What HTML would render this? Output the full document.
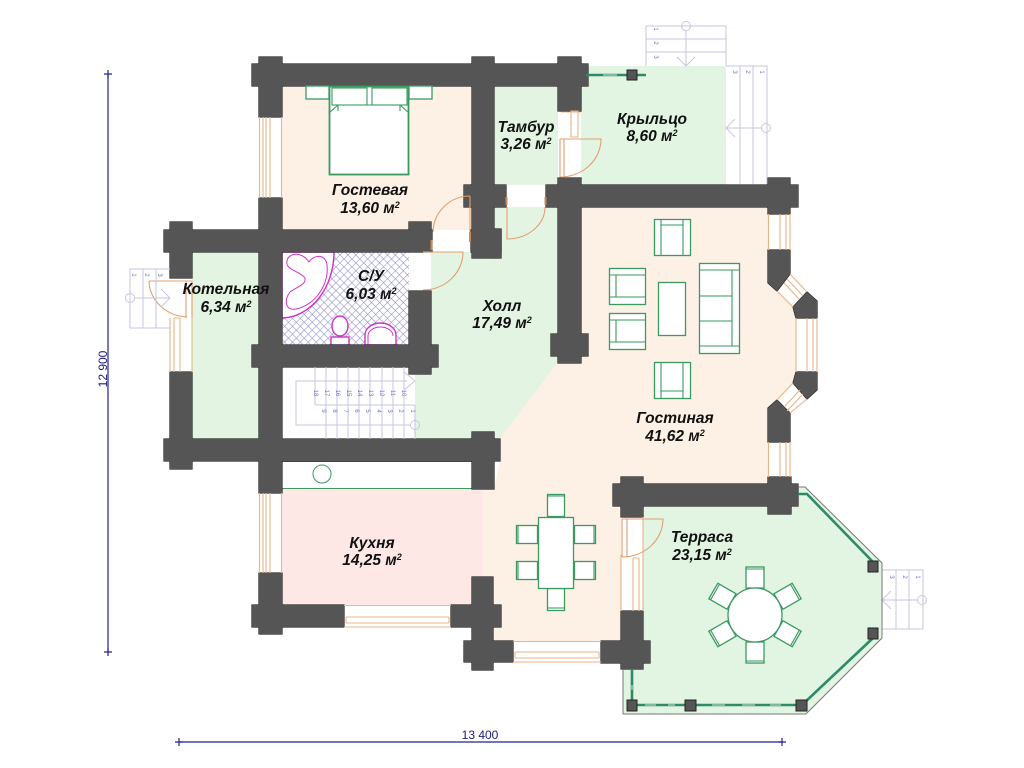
<!DOCTYPE html>
<html><head><meta charset="utf-8"><style>
html,body{margin:0;padding:0;background:#fff;width:1024px;height:768px;overflow:hidden}
svg{display:block}
text{font-family:"Liberation Sans",sans-serif}
.l{font-size:15.5px;font-weight:bold;font-style:italic;fill:#111;text-anchor:middle}
.s{font-size:9px}
.d{font-size:12px;fill:#1a1a80;text-anchor:middle}
.n{font-size:6px;fill:#7070c8;text-anchor:middle}
.f{fill:#fff;stroke:#3a9a60;stroke-width:1.3}
.t{fill:none;stroke:#3a9a60;stroke-width:1.1}
.o{fill:none;stroke:#e8b488;stroke-width:1.1}
.st{fill:none;stroke:#c6c6e2;stroke-width:1}
.m{fill:#fff;stroke:#d030c8;stroke-width:1.4}
</style></head><body>
<svg width="1024" height="768" viewBox="0 0 1024 768" xmlns="http://www.w3.org/2000/svg">
<defs>
<pattern id="h" width="5.6" height="5.6" patternUnits="userSpaceOnUse" patternTransform="rotate(45 282 252)">
<rect width="5.6" height="5.6" fill="#fff"/><path d="M0 0H5.6M0 0V5.6" stroke="#8f8fd2" stroke-width="1.1"/>
</pattern>
<g id="w">
<rect x="252" y="64" width="336" height="22"/>
<rect x="259" y="57" width="23" height="60"/>
<rect x="472" y="57" width="22" height="201"/>
<rect x="558" y="57" width="23" height="54"/>
<rect x="464" y="185" width="42" height="22"/>
<rect x="471" y="230" width="30" height="22"/>
<rect x="472" y="229" width="29" height="29" opacity="0"/>
<rect x="494" y="229" width="7" height="29"/>
<rect x="558" y="178" width="23" height="185"/>
<rect x="551" y="334" width="37" height="22"/>
<rect x="546" y="185" width="252" height="22"/>
<rect x="768" y="178" width="22" height="36"/>
<rect x="164" y="230" width="268" height="22"/>
<rect x="170" y="222" width="22" height="56"/>
<rect x="409" y="222" width="22" height="8"/>
<rect x="259" y="198" width="23" height="295"/>
<rect x="252" y="345" width="186" height="22"/>
<rect x="409" y="291" width="22" height="83"/>
<rect x="170" y="372" width="22" height="97"/>
<rect x="164" y="439" width="336" height="22"/>
<rect x="472" y="432" width="22" height="57"/>
<rect x="259" y="573" width="23" height="61"/>
<rect x="252" y="605" width="92" height="22"/>
<rect x="451" y="605" width="50" height="22"/>
<rect x="472" y="577" width="21" height="93"/>
<rect x="464" y="641" width="49" height="21"/>
<rect x="601" y="641" width="49" height="22"/>
<rect x="621" y="611" width="22" height="58"/>
<rect x="613" y="484" width="185" height="22"/>
<rect x="621" y="477" width="22" height="40"/>
<rect x="768" y="477" width="23" height="37"/>
<polygon points="768,250 790,250 790,274 777,291 768,283"/>
<polygon points="793,307 807,292 817,301 817,318 796,318"/>
<polygon points="796,372 817,372 817,390 807,399 793,383"/>
<polygon points="777,400 790,413 790,442 768,442 768,408"/>
</g>
<g id="ch"><rect class="f" x="-9" y="-10" width="18" height="21"/><path class="t" d="M-9 -8H9"/></g>
<g id="ac"><rect class="f" x="-18" y="-18" width="36" height="36"/></g>
</defs>
<rect width="1024" height="768" fill="#fff"/>

<!-- floors -->
<rect x="282" y="86" width="190" height="145" fill="#fdf0e4"/>
<rect x="192" y="252" width="67" height="187" fill="#e4f4e2"/>
<rect x="494" y="86" width="64" height="99" fill="#e4f4e2"/>
<rect x="581" y="66" width="145" height="119" fill="#e2f4e2"/>
<polygon points="506,207 558,207 558,362 500,439 415,439 415,367 431,367 431,252 472,252 472,258 494,258 494,207" fill="#e4f4e2"/>
<polygon points="581,207 768,207 768,283 793,307 796,318 796,372 793,383 768,408 768,484 613,484 613,506 621,506 621,641 513,641 493,641 493,605 483,605 483,489 494,489 500,461 500,439 558,362 588,355 581,355" fill="#fdf0e4"/>
<rect x="282" y="489" width="201" height="116" fill="#fde8e6"/>
<polygon points="643,506 798,506 798,487 805,487 882,563 882,638 806,714 623,714 623,669 643,669" fill="#e2f4e2"/>

<!-- white windows/openings -->
<rect x="282" y="367" width="133" height="72" fill="#fff"/>
<rect x="282" y="461" width="190" height="28" fill="#fff"/>
<path d="M282 488.5H483" stroke="#3a9a60" stroke-width="1"/>
<path d="M282 461.5H472" stroke="#3a9a60" stroke-width="1"/>
<circle cx="322" cy="474" r="9" fill="#fff" stroke="#3a9a60" stroke-width="1"/>
<rect x="259" y="117" width="23" height="81" fill="#fff"/>
<rect x="259" y="493" width="23" height="80" fill="#fff"/>
<rect x="344" y="605" width="107" height="22" fill="#fff"/>
<rect x="513" y="641" width="88" height="21" fill="#fff"/>
<rect x="558" y="111" width="23" height="67" fill="#fff"/>
<rect x="506" y="185" width="40" height="22" fill="#fff"/>
<rect x="432" y="230" width="40" height="22" fill="#fff"/>
<rect x="170" y="278" width="22" height="94" fill="#fff"/>
<rect x="621" y="517" width="22" height="94" fill="#fff"/>
<rect x="768" y="214" width="22" height="36" fill="#fff"/>
<rect x="768" y="442" width="22" height="35" fill="#fff"/>
<rect x="796" y="318" width="21" height="54" fill="#fff"/>
<polygon points="777,291 790,274 807,292 793,307" fill="#fff"/>
<polygon points="777,400 793,383 807,399 790,413" fill="#fff"/>

<!-- bathroom -->
<rect x="282" y="252" width="127" height="93" fill="url(#h)"/>
<rect x="409" y="252" width="22" height="39" fill="#fff"/>
<path d="M282 252H334A53 66 0 0 1 282 318Z" class="m"/>
<path d="M288 258C295 250 305 256 309 262C314 254 326 254 327 265C329 285 315 305 296 309C285 311 284 300 290 292C298 286 306 285 305 278C299 270 282 270 288 258Z" fill="#fff" stroke="#d030c8" stroke-width="1"/>
<rect class="m" x="331" y="337" width="18" height="8"/>
<ellipse class="m" cx="340" cy="326" rx="8" ry="10"/>
<path class="m" d="M365 345V335A15.500 12 0 0 1 396 335V345Z"/>
<path d="M368 345V336A12.500 9 0 0 1 393 336" fill="none" stroke="#d030c8" stroke-width="1"/>

<!-- walls -->
<use href="#w" fill="#222" stroke="#222" stroke-width="1.2"/>
<use href="#w" fill="#555"/>

<!-- windows -->
<g class="o">
<path d="M259.500 117V198M281.500 117V198M263 117V198M270 117V198M266 117V198"/>
<path d="M259.500 493V573M281.500 493V573M263 493V573M270 493V573M266 493V573"/>
<path d="M344 605.500H451M344 627H451M346 617H449M346 623H449M346 617V623M449 617V623"/>
<path d="M513 641.500H601M513 662H601M515 652H599M515 658H599M515 652V658M599 652V658"/>
<path d="M561 112H581M571 111H578V137H571Z"/>
<path d="M170 318V372M192 318V372M174 318V372M180 318V372M174 318H180"/>
<path d="M621 555V611M643 517V611M633 558V611M639 558V611M633 558H639"/>
<path d="M768.500 214V250M790 214V250M780 214V250M786 214V250"/>
<path d="M768.500 442V477M790 442V477M780 442V477M786 442V477"/>
<path d="M796 318V372M817 318V372M807 318V372M813 318V372"/>
<path d="M777 291L793 307M790 274L807 292M784 283L799 299M787 279L803 296"/>
<path d="M777 400L793 383M790 413L807 399M784 407L800 390M787 411L803 394"/>
</g>
<!-- doors -->
<g fill="none" stroke="#e0a070" stroke-width="1.100">
<path d="M470 196V232M470 196A37 37 0 0 0 433 232"/>
<path d="M423 252H463A40 38 0 0 1 423 290"/>
<path d="M560 139H601A41 38 0 0 1 560 177M560 139V177M564 139V177"/>
<path d="M507 207V239A38 32 0 0 0 545 207"/>
<path d="M149 281H192V318M186 281V318M149 281A40 37 0 0 0 187 317"/>
<path d="M622 519H663A41 38 0 0 1 622 557M622 519V557M627 519V557"/>
</g>
<g fill="#d08850"><rect x="505.500" y="197" width="2" height="8"/><rect x="544.500" y="197" width="2" height="8"/><rect x="430.500" y="240" width="2" height="10"/><rect x="469" y="232" width="2" height="10"/></g>

<!-- outer stairs -->
<g class="st">
<path d="M646 66V26H726V66M646 39H726M646 52H726"/><circle cx="686" cy="26" r="4.500"/><path d="M686 30V66M677 57L686 66L695 57"/>
<path d="M726 66H767V184M740 66V184M753 66V184"/><circle cx="766" cy="128" r="4.500"/><path d="M726 128H762M735 119L726 128L735 137"/>
<path d="M170 269H130V328H170M143 269V328M156 269V328"/><circle cx="130" cy="298" r="4.500"/><path d="M134 298H170M161 289L170 298L161 307"/>
<path d="M882 570H923V629H882M896 570V629M909 570V629"/><circle cx="922" cy="600" r="4.500"/><path d="M882 600H918M891 591L882 600L891 609"/>
<path d="M315 367V405M326 367V405M337 367V405M348 367V405M359 367V405M370 367V405M382 367V405M393 367V405M404 367V405M315 405H415M326 405V439M337 405V439M348 405V439M359 405V439M370 405V439M382 405V439M393 405V439M404 405V439M415 405V439"/>
<path d="M407 381H296V425H411M404 372L415 381L404 390"/><circle cx="415" cy="425" r="4.500"/>
</g>
<g class="n">
<text transform="translate(654,29) rotate(90)">1</text><text transform="translate(654,43) rotate(90)">2</text><text transform="translate(654,57) rotate(90)">3</text>
<text transform="translate(733,72) rotate(90)">3</text><text transform="translate(746,72) rotate(90)">2</text><text transform="translate(760,72) rotate(90)">1</text>
<text transform="translate(132,275) rotate(90)">1</text><text transform="translate(145,275) rotate(90)">2</text><text transform="translate(158,275) rotate(90)">3</text>
<text transform="translate(890,577) rotate(90)">3</text><text transform="translate(903,577) rotate(90)">2</text><text transform="translate(916,577) rotate(90)">1</text>
<text transform="translate(314,393) rotate(90)">18</text><text transform="translate(325,393) rotate(90)">17</text><text transform="translate(336,393) rotate(90)">16</text><text transform="translate(347,393) rotate(90)">15</text><text transform="translate(358,393) rotate(90)">14</text><text transform="translate(369,393) rotate(90)">13</text><text transform="translate(380,393) rotate(90)">12</text><text transform="translate(391,393) rotate(90)">11</text><text transform="translate(402,393) rotate(90)">10</text>
<text transform="translate(322,411) rotate(90)">9</text><text transform="translate(333,411) rotate(90)">8</text><text transform="translate(344,411) rotate(90)">7</text><text transform="translate(355,411) rotate(90)">6</text><text transform="translate(366,411) rotate(90)">5</text><text transform="translate(377,411) rotate(90)">4</text><text transform="translate(388,411) rotate(90)">3</text><text transform="translate(399,411) rotate(90)">2</text><text transform="translate(411,411) rotate(90)">1</text>
</g>

<!-- bed -->
<rect class="f" x="306" y="86" width="23" height="13"/><rect class="f" x="409" y="86" width="23" height="13"/>
<rect x="329.500" y="86.500" width="79" height="88" fill="#fff" stroke="#3a9a60" stroke-width="1.800"/>
<rect class="t" x="332" y="88" width="35" height="17"/><rect class="t" x="372" y="88" width="35" height="17"/>
<path class="t" d="M329 113L338 105H400L409 113M338 105V111M400 105V111"/>

<!-- living -->
<rect class="f" x="654.500" y="219.500" width="36" height="36"/><path class="t" d="M661 219V255M683 219V255M661 225H683"/>
<rect class="f" x="609.500" y="268.500" width="36" height="36"/><path class="t" d="M609 275H645M609 297H645M616 275V297"/>
<rect class="f" x="609.500" y="313.500" width="36" height="36"/><path class="t" d="M609 320H645M609 342H645M616 320V342"/>
<rect class="f" x="658.500" y="282.500" width="27" height="53"/>
<rect class="f" x="699.500" y="263.500" width="40" height="90"/><path class="t" d="M699 270H739M699 346H739M732 270V346M699 296H732M699 321H732"/>
<rect class="f" x="654.500" y="362.500" width="36" height="36"/><path class="t" d="M661 362V398M683 362V398M661 391H683"/>

<!-- dining -->
<rect class="f" x="547.500" y="494.500" width="17" height="22"/><path class="t" d="M547 496H564"/>
<rect class="f" x="547.500" y="588.500" width="17" height="22"/><path class="t" d="M547 608H564"/>
<rect class="f" x="516.500" y="525.500" width="21" height="18"/><path class="t" d="M518 525V543"/>
<rect class="f" x="516.500" y="561.500" width="21" height="18"/><path class="t" d="M518 561V579"/>
<rect class="f" x="574.500" y="525.500" width="21" height="18"/><path class="t" d="M594 525V543"/>
<rect class="f" x="574.500" y="561.500" width="21" height="18"/><path class="t" d="M594 561V579"/>
<rect class="f" x="538.500" y="517.500" width="35" height="71"/>

<!-- terrace -->
<g fill="none">
<path d="M623 669V714H806L882 638V563L805 487H798" stroke="#777" stroke-width="1"/>
<path d="M798 494H807L873 562M873 638L802 705H632V669" stroke="#2e8b68" stroke-width="2.600"/>
<path d="M645 705H656M668 705H675M712 705H725M742 705H755M770 705H781M632 685V690" stroke="#cfe8d8" stroke-width="1"/>
</g>
<g fill="#555" stroke="#222" stroke-width="1">
<rect x="868" y="561" width="10" height="11"/><rect x="868" y="628" width="10" height="11"/>
<rect x="627" y="700" width="10" height="11"/><rect x="685" y="700" width="11" height="11"/><rect x="796" y="700" width="11" height="11"/>
</g>
<g>
<use href="#ch" transform="translate(755,577)"/>
<use href="#ch" transform="translate(755,653) rotate(180)"/>
<use href="#ch" transform="translate(722,596) rotate(-60)"/>
<use href="#ch" transform="translate(788,596) rotate(60)"/>
<use href="#ch" transform="translate(722,634) rotate(-120)"/>
<use href="#ch" transform="translate(788,634) rotate(120)"/>
</g>
<circle cx="755" cy="615" r="27" fill="#fff" stroke="#3a9a60" stroke-width="1.300"/>

<!-- porch rail -->
<path d="M586 75H646" stroke="#2e8b68" stroke-width="2.600"/><path d="M603 75H617" stroke="#cfe8d8" stroke-width="1"/>
<rect x="627" y="70" width="10" height="10" fill="#555" stroke="#222" stroke-width="1"/>

<!-- labels -->
<text class="l" x="370" y="195">Гостевая</text><text class="l" x="370" y="213">13,60 м<tspan class="s" dy="-5">2</tspan></text>
<text class="l" x="526" y="132">Тамбур</text><text class="l" x="526" y="149">3,26 м<tspan class="s" dy="-5">2</tspan></text>
<text class="l" x="652" y="124">Крыльцо</text><text class="l" x="652" y="141">8,60 м<tspan class="s" dy="-5">2</tspan></text>
<text class="l" x="226" y="294">Котельная</text><text class="l" x="226" y="312">6,34 м<tspan class="s" dy="-5">2</tspan></text>
<text class="l" x="371" y="281">С/У</text><text class="l" x="371" y="299">6,03 м<tspan class="s" dy="-5">2</tspan></text>
<text class="l" x="502" y="311">Холл</text><text class="l" x="502" y="328">17,49 м<tspan class="s" dy="-5">2</tspan></text>
<text class="l" x="675" y="423">Гостиная</text><text class="l" x="675" y="441">41,62 м<tspan class="s" dy="-5">2</tspan></text>
<text class="l" x="372" y="548">Кухня</text><text class="l" x="372" y="565">14,25 м<tspan class="s" dy="-5">2</tspan></text>
<text class="l" x="702" y="542">Терраса</text><text class="l" x="702" y="560">23,15 м<tspan class="s" dy="-5">2</tspan></text>

<!-- dimensions -->
<path d="M108 74V652M179 742H782" stroke="#23238f" stroke-width="1.200"/>
<path d="M104 74H112M108 70V78M104 652H112M108 648V656M179 738V746M175 742H183M782 738V746M778 742H786" stroke="#23238f" stroke-width="1.200"/>
<text class="d" transform="translate(107,369) rotate(-90)">12 900</text>
<text class="d" x="480" y="739">13 400</text>
</svg>
</body></html>
